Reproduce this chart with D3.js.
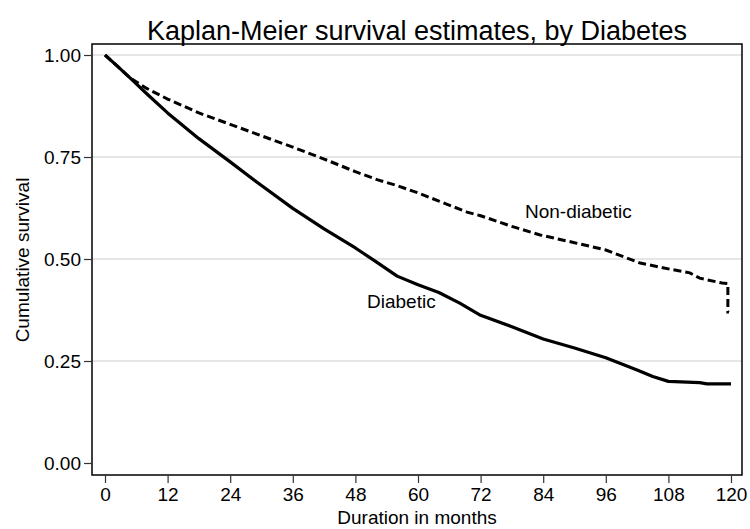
<!DOCTYPE html>
<html>
<head>
<meta charset="utf-8">
<script src="https://cdn.jsdelivr.net/npm/d3@7"></script>
<style>
  html, body { margin: 0; padding: 0; background: #fff; }
  text { font-family: "Liberation Sans", Arial, Helvetica, sans-serif; fill: #000; }
</style>
</head>
<body>
<svg id="chart" width="750" height="529"></svg>
<script>
// ---- data ----
const title = "Kaplan-Meier survival estimates, by Diabetes";
const xLabel = "Duration in months";
const yLabel = "Cumulative survival";
const xTicks = [0, 12, 24, 36, 48, 60, 72, 84, 96, 108, 120];
const yTicks = [0, 0.25, 0.5, 0.75, 1.0];

const nonDiabeticTime  = [0, 2, 4.8, 8, 12, 18, 24, 30, 36, 42, 48, 52.3, 56, 60, 64, 69.4, 72, 78, 83.4, 90, 96, 102.6, 108.3, 112.1, 114, 118.3, 119.4, 119.4, 119.6];
const nonDiabeticSurv  = [1.0, 0.977, 0.944, 0.918, 0.892, 0.858, 0.830, 0.802, 0.774, 0.745, 0.714, 0.694, 0.680, 0.662, 0.642, 0.615, 0.606, 0.580, 0.559, 0.540, 0.522, 0.490, 0.475, 0.466, 0.453, 0.441, 0.440, 0.370, 0.370];

const diabeticTime = [0, 2, 4.8, 8, 12, 18, 24, 30, 36, 42, 48, 52, 56, 60, 64, 68, 72, 78, 84, 90, 96, 102, 105, 108, 114, 115.4, 120];
const diabeticSurv = [1.0, 0.977, 0.944, 0.905, 0.858, 0.795, 0.738, 0.680, 0.624, 0.574, 0.527, 0.493, 0.458, 0.437, 0.418, 0.392, 0.362, 0.334, 0.304, 0.282, 0.258, 0.228, 0.212, 0.200, 0.197, 0.194, 0.194];

const seriesLabels = ["Non-diabetic", "Diabetic"];

// ---- layout ----
const svg = d3.select("#chart");
const frame = { left: 92, right: 742, top: 44, bottom: 475 };

const x = d3.scaleLinear().domain([0, 120]).range([105, 731]);
const y = d3.scaleLinear().domain([0, 1]).range([463, 55]);

// gridlines
svg.append("g").selectAll("line")
  .data(yTicks.filter(d => d > 0))
  .join("line")
  .attr("x1", frame.left).attr("x2", frame.right)
  .attr("y1", d => y(d)).attr("y2", d => y(d))
  .attr("stroke", "#dcdcdc").attr("stroke-width", 1.5);

// frame
svg.append("rect")
  .attr("x", frame.left).attr("y", frame.top)
  .attr("width", frame.right - frame.left).attr("height", frame.bottom - frame.top)
  .attr("fill", "none").attr("stroke", "#000").attr("stroke-width", 1.5);

// y axis
const yAxis = d3.axisLeft(y).tickValues(yTicks).tickFormat(d3.format(".2f")).tickSize(8).tickPadding(3);
const gy = svg.append("g").attr("transform", `translate(${frame.left},0)`).call(yAxis);
gy.select(".domain").remove();
gy.selectAll(".tick line").attr("stroke", "#333").attr("stroke-width", 1.2);
gy.selectAll(".tick text").style("font-size", "19px").style("font-family", "Liberation Sans, Arial, sans-serif").attr("fill", "#000");

// x axis
const xAxis = d3.axisBottom(x).tickValues(xTicks).tickFormat(d3.format("d")).tickSize(8).tickPadding(5);
const gx = svg.append("g").attr("transform", `translate(0,${frame.bottom})`).call(xAxis);
gx.select(".domain").remove();
gx.selectAll(".tick line").attr("stroke", "#333").attr("stroke-width", 1.2);
gx.selectAll(".tick text").style("font-size", "19px").style("font-family", "Liberation Sans, Arial, sans-serif").attr("fill", "#000");

// lines
const line = d3.line().x(d => x(d[0])).y(d => y(d[1]));
const ndData = nonDiabeticTime.map((t, i) => [t, nonDiabeticSurv[i]]);
const dData = diabeticTime.map((t, i) => [t, diabeticSurv[i]]);

svg.append("path").datum(ndData)
  .attr("d", line).attr("fill", "none").attr("stroke", "#000")
  .attr("stroke-width", 3).attr("stroke-dasharray", "8,4");

svg.append("path").datum(dData)
  .attr("d", line).attr("fill", "none").attr("stroke", "#000")
  .attr("stroke-width", 3.2).attr("stroke-linejoin", "round");

// series labels
svg.append("text").attr("x", 525).attr("y", 218).style("font-size", "19px").text(seriesLabels[0]);
svg.append("text").attr("x", 367).attr("y", 308).style("font-size", "19px").text(seriesLabels[1]);

// title
svg.append("text").attr("x", 417).attr("y", 40).attr("text-anchor", "middle")
  .style("font-size", "27px").text(title);

// axis titles
svg.append("text").attr("x", 417).attr("y", 524).attr("text-anchor", "middle")
  .style("font-size", "19px").text(xLabel);
svg.append("text").attr("transform", "translate(29,260) rotate(-90)").attr("text-anchor", "middle")
  .style("font-size", "19px").text(yLabel);
</script>
</body>
</html>
